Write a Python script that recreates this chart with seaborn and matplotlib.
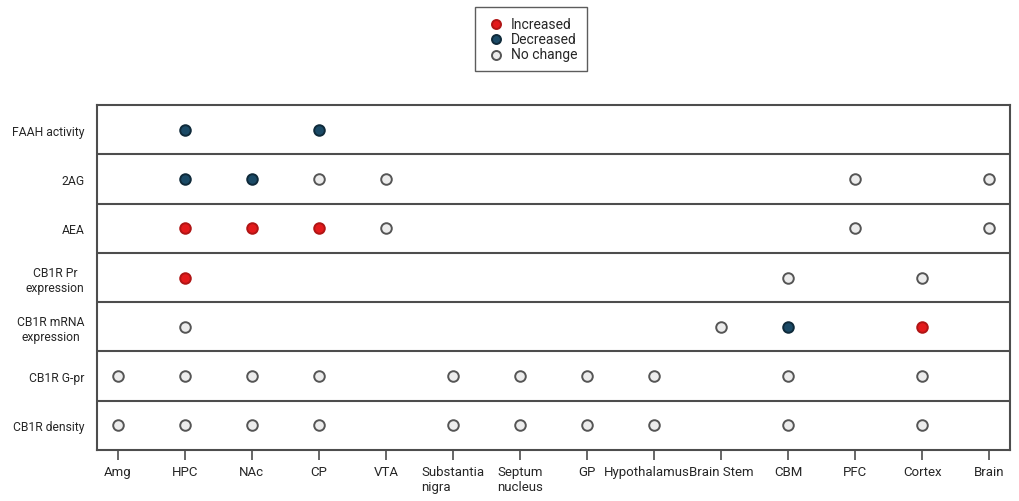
import numpy as np
import matplotlib
matplotlib.use("Agg")
import matplotlib.pyplot as plt
import matplotlib.transforms as mtransforms
import pandas as pd
import seaborn as sns

# categories
regions = ['Amg', 'HPC', 'NAc', 'CP', 'VTA', 'Substantia\nnigra', 'Septum\nnucleus', 'GP',
           'Hypothalamus', 'Brain Stem', 'CBM', 'PFC', 'Cortex', 'Brain']
measures = ['FAAH activity', '2AG', 'AEA', 'CB1R Pr\nexpression', 'CB1R mRNA\nexpression',
            'CB1R G-pr', 'CB1R density']

# findings per measure: (region, status)
faah = [('HPC', 'Decreased'), ('CP', 'Decreased')]
ag2 = [('HPC', 'Decreased'), ('NAc', 'Decreased'), ('CP', 'No change'), ('VTA', 'No change'),
       ('PFC', 'No change'), ('Brain', 'No change')]
aea = [('HPC', 'Increased'), ('NAc', 'Increased'), ('CP', 'Increased'), ('VTA', 'No change'),
       ('PFC', 'No change'), ('Brain', 'No change')]
cb1r_pr = [('HPC', 'Increased'), ('CBM', 'No change'), ('Cortex', 'No change')]
cb1r_mrna = [('HPC', 'No change'), ('Brain Stem', 'No change'), ('CBM', 'Decreased'),
             ('Cortex', 'Increased')]
gpr_regions = ['Amg', 'HPC', 'NAc', 'CP', 'Substantia\nnigra', 'Septum\nnucleus', 'GP',
               'Hypothalamus', 'CBM', 'Cortex']
cb1r_gpr = [(r, 'No change') for r in gpr_regions]
cb1r_density = [(r, 'No change') for r in gpr_regions]

statuses = ['Increased', 'Decreased', 'No change']
fills = {'Increased': '#e31a1c', 'Decreased': '#1b4a66', 'No change': '#ececec'}
edges = {'Increased': '#b01515', 'Decreased': '#0f2a3a', 'No change': '#555555'}

rows = []
for m, findings in zip(measures, [faah, ag2, aea, cb1r_pr, cb1r_mrna, cb1r_gpr, cb1r_density]):
    for r, s in findings:
        rows.append({'region': r, 'measure': m, 'status': s,
                     'x': regions.index(r), 'y': measures.index(m)})
df = pd.DataFrame(rows)

sns.set_style('white')
plt.rcParams['font.family'] = ['Roboto', 'DejaVu Sans']

fig = plt.figure(figsize=(10.2, 5.02), dpi=100)
ax = fig.add_axes([97 / 1020, 1 - 451 / 502, (1010 - 97) / 1020, (451 - 106) / 502])

for s in statuses:
    sub = df[df['status'] == s]
    sns.scatterplot(data=sub, x='x', y='y', ax=ax, s=58, color=fills[s],
                    edgecolor=edges[s], linewidth=1.4, label=s, zorder=3)

for i in range(1, len(measures)):
    ax.axhline(i - 0.5, color='#4d4d4d', lw=1.5, zorder=1)

ax.set_xlim(-0.31, len(regions) - 1 + 0.31)
ax.set_ylim(len(measures) - 0.5, -0.5)
ax.set_xticks(range(len(regions)))
ax.set_xticklabels(regions, fontsize=9.5, ha='center', multialignment='left')
ax.set_yticks(range(len(measures)))
ax.set_yticklabels(measures, fontsize=8.7, multialignment='center')
ax.set_xlabel('')
ax.set_ylabel('')
ax.tick_params(axis='x', length=7.5, width=1.2, color='#4d4d4d', direction='out', pad=3,
               bottom=True)
ax.tick_params(axis='y', length=0, pad=9)
for sp in ax.spines.values():
    sp.set_color('#4d4d4d')
    sp.set_linewidth(1.5)

# nudge the long label left a little, as in the original figure
for lbl in ax.get_xticklabels():
    if lbl.get_text() == 'Hypothalamus':
        lbl.set_transform(lbl.get_transform() +
                          mtransforms.ScaledTranslation(-7 / 100, 0, fig.dpi_scale_trans))

ax.legend(loc='upper center', bbox_to_anchor=(531 / 1020, 1 - 8 / 502),
          bbox_transform=fig.transFigure, frameon=True, fancybox=False, borderaxespad=0,
          edgecolor='#333333', fontsize=10, handletextpad=0.3, labelspacing=0.1,
          borderpad=0.7, handlelength=1.6, markerscale=0.85)
ax.get_legend().get_frame().set_linewidth(1.0)

fig.savefig('out.png', dpi=100)
